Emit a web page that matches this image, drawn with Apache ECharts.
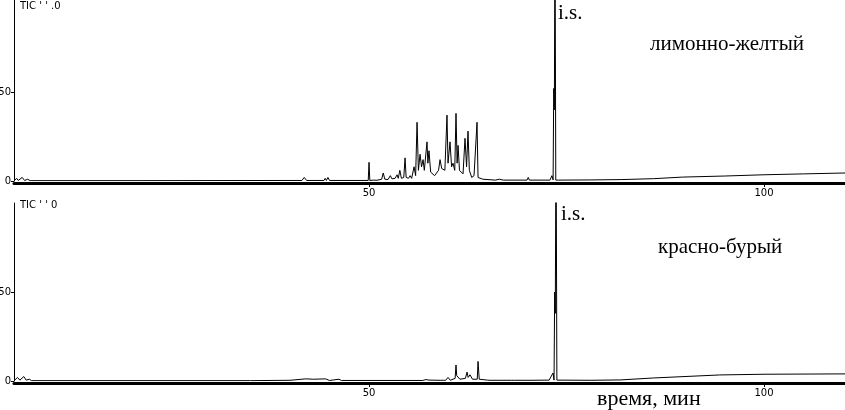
<!DOCTYPE html>
<html>
<head>
<meta charset="utf-8">
<title>TIC</title>
<script src="https://cdn.jsdelivr.net/npm/echarts@6/dist/echarts.min.js"></script>
<style>
  html, body { margin: 0; padding: 0; background: #fff; }
  #chart { width: 845px; height: 410px; }
</style>
</head>
<body>
<div id="chart"></div>
<script>
// retention time axis, minutes
const timeRange = [5.06, 110.25]
const timeTicks = [50, 100]
const signalTicks = [0, 50]

// лимонно-желтый
const topTime = [
  5.1, 5.4, 5.6, 6.1, 6.4, 6.8, 7.1, 20, 41.5, 41.8, 42.1, 44.3, 44.45, 44.6, 44.8, 45.0,
  49.9, 50.0, 50.1, 50.6, 50.8, 51.0, 51.6, 51.8, 52.0, 52.4, 52.7, 52.9, 53.3, 53.55, 53.7,
  53.9, 54.1, 54.4, 54.56, 54.7, 55.0, 55.2, 55.4, 55.7, 55.9, 56.08, 56.25, 56.46, 56.65,
  56.84, 57.0, 57.34, 57.45, 57.59, 57.8, 58.0, 58.3, 58.5, 58.8, 58.99, 59.2, 59.37, 59.6,
  59.87, 60.0, 60.25, 60.45, 60.63, 60.85, 61.01, 61.15, 61.27, 61.45, 61.65, 61.9, 62.15,
  62.35, 62.53, 62.7, 62.78, 63.0, 63.29, 63.5, 63.67, 63.8, 64.0, 64.4, 64.6, 66, 66.5, 67,
  70.0, 70.15, 70.3, 72.9, 73.15, 73.3, 73.38, 73.46, 73.54, 73.64, 74.0, 78, 82, 86, 89.7,
  95, 100, 105, 110.25
]
const topSignal = [
  0.3, 1.5, 0.3, 2, 0.3, 1, 0.2, 0.2, 0.3, 2, 0.3, 0.3, 1.5, 0.3, 2, 0.3,
  0.3, 10.5, 0.3, 0.5, 1.5, 0.4, 1, 4.5, 1, 0.8, 3, 1.2, 1.5, 3.5, 1.5,
  6, 1.5, 2, 13, 2, 1.5, 3, 1.5, 8, 3, 33, 6, 15, 8,
  12, 6, 22, 10, 17, 5, 5, 3, 4, 6, 12, 7, 8, 6,
  37, 10, 22, 8, 10, 6, 38, 10, 20, 6, 6, 4, 24,
  8, 28, 6, 5, 2, 3, 2, 33, 2, 1, 1, 0.5, 0.5, 1, 0.5,
  0.5, 2, 0.5, 0.5, 3, 0.6, 52, 40, 150, 0.5, 0.5, 0.6, 0.8, 1.3, 2.2,
  2.8, 3.5, 4, 4.5
]

// красно-бурый
const bottomTime = [
  5.1, 5.5, 5.8, 6.3, 6.6, 7.0, 7.3, 35, 40, 42, 43, 44.5, 45, 46.2, 46.5, 56.8,
  57.2, 57.6, 59.0, 59.24, 59.4, 59.7, 60.0, 60.3, 60.9, 61.01, 61.1, 61.3, 61.5, 62.2,
  62.41, 62.55, 62.78, 63.1, 63.7, 63.8, 63.95, 65.0, 65.06, 65.3, 68.0, 68.23, 68.4,
  70.0, 70.25, 70.5, 72.8, 73.29, 73.42, 73.5, 73.58, 73.67, 73.78, 78, 81.8, 86, 94.4, 100,
  110.25
]
const bottomSignal = [
  0.3, 2, 0.5, 2.5, 0.5, 1, 0.2, 0.2, 0.4, 1.2, 1.0, 1.2, 0.3, 1, 0.3, 0.3,
  0.8, 0.5, 0.4, 1.2, 0.4, 0.4, 2, 0.4, 1.5, 9, 3, 3, 1, 1.5,
  5, 2, 3.5, 1, 1, 11, 1, 0.5, 1.2, 0.4, 0.4, 1.5, 0.4,
  0.4, 1.5, 0.4, 0.5, 4.5, 0.5, 50, 38, 150, 0.5, 0.4, 0.6, 1.7, 3.4, 3.8,
  4
]

const pairs = (t, v) => t.map((x, i) => [x, v[i]])

const chart = echarts.init(document.getElementById('chart'))

const xAxisBase = (gridIndex) => ({
  type: 'value',
  gridIndex: gridIndex,
  min: timeRange[0],
  max: timeRange[1],
  offset: 2,
  axisLine: { show: true, onZero: false, lineStyle: { color: '#000', width: 3 } },
  axisTick: { show: true, customValues: timeTicks, length: 4, lineStyle: { color: '#000' } },
  axisLabel: { customValues: timeTicks, color: '#000', fontSize: 10, fontFamily: 'DejaVu Sans', margin: 5 },
  splitLine: { show: false }
})

const yAxisBase = (gridIndex, max) => ({
  type: 'value',
  gridIndex: gridIndex,
  min: 0,
  max: max,
  axisLine: { show: true, lineStyle: { color: '#000', width: 1 } },
  axisTick: { show: true, customValues: signalTicks, length: 3, lineStyle: { color: '#000' } },
  axisLabel: { customValues: signalTicks, color: '#000', fontSize: 10, fontFamily: 'DejaVu Sans', margin: 3 },
  splitLine: { show: false }
})

const serif = '21px "Liberation Serif"'

const option = {
  animation: false,
  backgroundColor: '#fff',
  grid: [
    { left: 14, right: 0, top: 0, height: 181, outerBoundsMode: 'none', containLabel: false },
    { left: 14, right: 0, top: 203, height: 178, outerBoundsMode: 'none', containLabel: false }
  ],
  xAxis: [xAxisBase(0), xAxisBase(1)],
  yAxis: [yAxisBase(0, 101.7), yAxisBase(1, 100)],
  series: [
    {
      type: 'line',
      xAxisIndex: 0,
      yAxisIndex: 0,
      data: pairs(topTime, topSignal),
      showSymbol: false,
      clip: true,
      lineStyle: { color: '#000', width: 1 }
    },
    {
      type: 'line',
      xAxisIndex: 1,
      yAxisIndex: 1,
      data: pairs(bottomTime, bottomSignal),
      showSymbol: false,
      clip: true,
      lineStyle: { color: '#000', width: 1 }
    }
  ],
  graphic: [
    { type: 'text', left: 20, top: 1, style: { text: "TIC ' ' .0", font: '10px "DejaVu Sans"', fill: '#000' } },
    { type: 'text', left: 20, top: 200, style: { text: "TIC ' ' 0", font: '10px "DejaVu Sans"', fill: '#000' } },
    { type: 'text', left: 558, top: 3, style: { text: 'i.s.', font: serif, fill: '#000' } },
    { type: 'text', left: 561, top: 204, style: { text: 'i.s.', font: serif, fill: '#000' } },
    { type: 'text', left: 650, top: 34, style: { text: 'лимонно-желтый', font: serif, fill: '#000' } },
    { type: 'text', left: 658, top: 237, style: { text: 'красно-бурый', font: serif, fill: '#000' } },
    { type: 'text', left: 597, top: 388, style: { text: 'время, мин', font: '22px "Liberation Serif"', fill: '#000' } }
  ]
}

chart.setOption(option)
</script>
</body>
</html>
